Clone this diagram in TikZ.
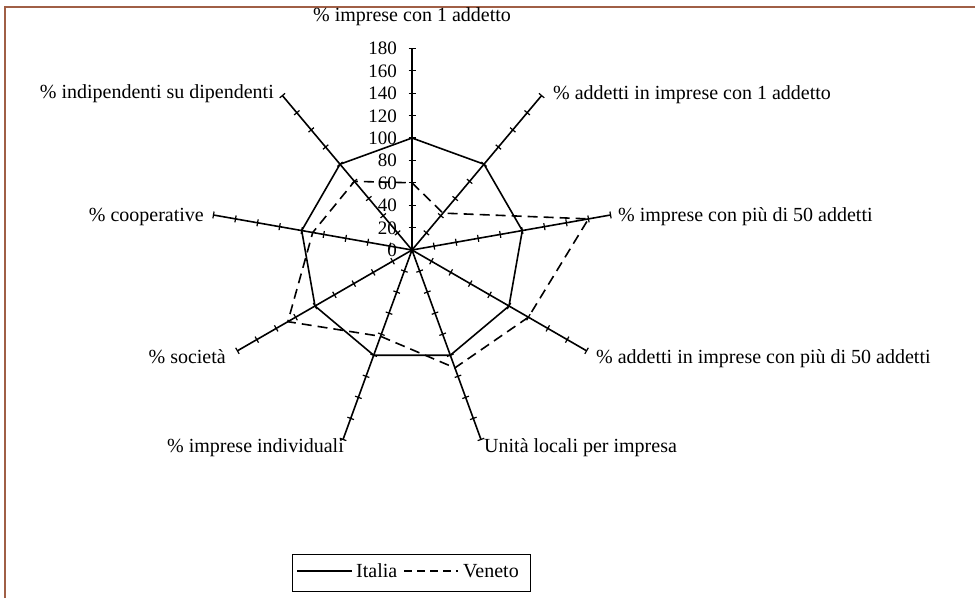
\documentclass[tikz,border=0pt]{standalone}
\usepackage{fontspec}
\setmainfont{Liberation Serif}
\usetikzlibrary{calc}
\definecolor{framec}{RGB}{160,95,70}
\begin{document}
\begin{tikzpicture}[x=1pt,y=1pt,
  axisline/.style={line width=1.6pt},
  tickmark/.style={line width=1.2pt},
  italia/.style={line width=1.6pt, line join=miter},
  veneto/.style={line width=1.6pt, dash pattern=on 10pt off 6pt},
  lab/.style={font=\fontsize{20}{24}\selectfont, inner sep=0pt, text height=0.7em, text depth=0.22em, yshift=-4pt},
  num/.style={font=\fontsize{19}{22}\selectfont, inner sep=0pt, anchor=east, text height=0.68em, text depth=0pt, yshift=-3pt},
  legbox/.style={draw, line width=1.4pt, inner sep=0pt, anchor=north west, minimum width=238pt, minimum height=37pt}
  ]
\useasboundingbox (0,0) rectangle (975,-598);
\fill[white] (0,0) rectangle (975,-598);
\draw[framec, line width=2pt] (5,-598) -- (5,-7) -- (975,-7);
\coordinate (c) at (412,-250);
% axes with ticks
\foreach \i/\a in {1/90,2/50,3/10,4/-30,5/-70,6/-110,7/-150,8/170,9/130} {
  \coordinate (e\i) at ($(c)+(\a:201.6)$);
  \draw[axisline] (c) -- (e\i);
  \foreach \t in {1,...,9} {
    \draw[tickmark] ($(c)+({\a}:{\t*22.4})+({\a+90}:3.5)$) -- ($(c)+({\a}:{\t*22.4})+({\a-90}:3.5)$);
  }
}
% scale numbers
\foreach \v [count=\j from 0] in {0,20,...,180} {
  \node[num] (n\j) at ($(c)+(-15,{\v*1.12})$) {\v};
}
% data points
\foreach \i/\a/\vi/\vv in {1/90/100/60,2/50/100/43,3/10/100/160,4/-30/100/120,5/-70/100/112,6/-110/100/82,7/-150/100/128,8/170/100/90,9/130/100/80} {
  \coordinate (i\i) at ($(c)+({\a}:{\vi*1.12})$);
  \coordinate (v\i) at ($(c)+({\a}:{\vv*1.12})$);
}
\draw[italia] (i1) -- (i2) -- (i3) -- (i4) -- (i5) -- (i6) -- (i7) -- (i8) -- (i9) -- cycle;
\draw[veneto] (v1) -- (v2) -- (v3) -- (v4) -- (v5) -- (v6) -- (v7) -- (v8) -- (v9) -- cycle;
% axis labels
\node[lab, anchor=center] (l1) at (412,-15) {\% imprese con 1 addetto};
\node[lab, anchor=west] (l2) at (553,-93) {\% addetti in imprese con 1 addetto};
\node[lab, anchor=west] (l3) at (618,-215) {\% imprese con più di 50 addetti};
\node[lab, anchor=west] (l4) at (596,-357) {\% addetti in imprese con più di 50 addetti};
\node[lab, anchor=west] (l5) at (484,-446) {Unità locali per impresa};
\node[lab, anchor=east] (l6) at (344,-446) {\% imprese individuali};
\node[lab, anchor=east] (l7) at (226,-357) {\% società};
\node[lab, anchor=east] (l8) at (204,-215) {\% cooperative};
\node[lab, anchor=east] (l9) at (274,-92) {\% indipendenti su dipendenti};
% legend
\node[legbox] (leg) at (292,-554) {};
\coordinate (la) at (297,-571);
\coordinate (lb) at (352,-571);
\draw[italia] (la) -- (lb);
\node[lab, anchor=west] (lit) at (356,-571) {Italia};
\coordinate (lc) at (404,-571);
\coordinate (ld) at (457.5,-571);
\draw[line width=1.5pt, dash pattern=on 8pt off 5pt] (lc) -- (ld);
\node[lab, anchor=west] (lve) at (463,-571) {Veneto};
\end{tikzpicture}
\end{document}
